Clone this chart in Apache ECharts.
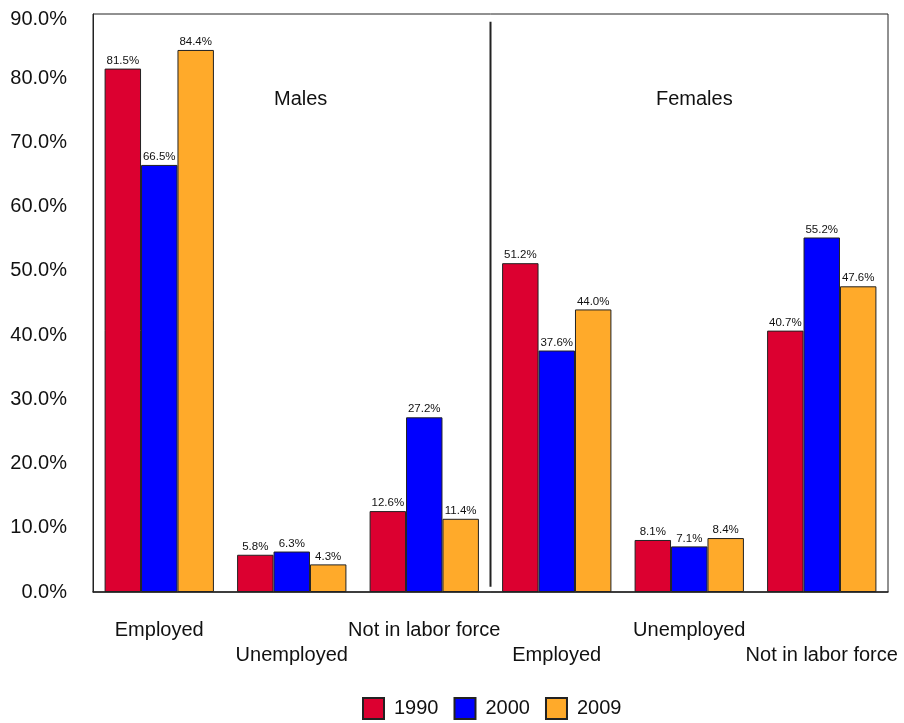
<!DOCTYPE html>
<html>
<head>
<meta charset="utf-8">
<script src="https://cdn.jsdelivr.net/npm/echarts@6/dist/echarts.min.js"></script>
<style>
  html, body { margin: 0; padding: 0; background: #fff; }
  #chart { width: 904px; height: 723px; }
</style>
</head>
<body>
<div id="chart"></div>
<script>
// Labor force status by sex, percentage of population
const categories = ['Employed', 'Unemployed', 'Not in labor force', 'Employed', 'Unemployed', 'Not in labor force'];
const years = ['1990', '2000', '2009'];
const values1990 = [81.5, 5.8, 12.6, 51.2, 8.1, 40.7];
const values2000 = [66.5, 6.3, 27.2, 37.6, 7.1, 55.2];
const values2009 = [84.4, 4.3, 11.4, 44.0, 8.4, 47.6];
const yTicks = [0, 10, 20, 30, 40, 50, 60, 70, 80, 90];
// Separator between the male and female panels (on a 0..6 category-span scale)
const dividerLine = [[3, 0.8], [3, 88.8]];
const panelTitles = ['Males', 'Females'];

const colors = ['#dc0030', '#0000ff', '#ffaa2a'];
const font = 'Liberation Sans, Arial, sans-serif';

const chart = echarts.init(document.getElementById('chart'));

function barSeries(name, data, color) {
  return {
    name: name,
    type: 'bar',
    data: data,
    barWidth: '27.5%',
    barGap: '0%',
    itemStyle: { color: color, borderColor: '#222', borderWidth: 1 },
    label: {
      show: true,
      position: 'top',
      distance: 2,
      fontFamily: font,
      fontSize: 11.5,
      color: '#111',
      formatter: p => p.value.toFixed(1) + '%'
    }
  };
}

const yMax = yTicks[yTicks.length - 1];

chart.setOption({
  animation: false,
  backgroundColor: '#fff',
  textStyle: { fontFamily: font },
  grid: {
    left: 93, right: 16, top: 14, bottom: 131,
    show: true, borderColor: '#222', borderWidth: 1
  },
  legend: {
    data: years,
    top: 692,
    left: 357,
    itemWidth: 21,
    itemHeight: 21,
    itemGap: 15,
    icon: 'rect',
    textStyle: { fontFamily: font, fontSize: 20, color: '#111', padding: [0, 0, 0, 5] }
  },
  xAxis: [
    {
      type: 'category',
      data: categories,
      axisTick: { show: false },
      axisLine: { show: true, lineStyle: { color: '#222', width: 1.5 } },
      axisLabel: {
        interval: 0,
        margin: 26,
        fontFamily: font,
        fontSize: 20,
        lineHeight: 25,
        color: '#111',
        formatter: (v, i) => (i % 2 === 1 ? '\n' + v : v)
      }
    },
    {
      type: 'value',
      min: 0,
      max: 6,
      show: false
    }
  ],
  yAxis: {
    type: 'value',
    min: yTicks[0],
    max: yMax,
    interval: 10,
    splitLine: { show: false },
    axisTick: { show: false },
    axisLine: { show: true, lineStyle: { color: '#222' } },
    axisLabel: {
      margin: 26,
      fontFamily: font,
      fontSize: 20,
      color: '#111',
      formatter: v => (v === yMax ? '{top|' + v.toFixed(1) + '%}' : v.toFixed(1) + '%'),
      rich: {
        top: { fontFamily: font, fontSize: 20, color: '#111', padding: [10, 0, 0, 0] }
      }
    }
  },
  graphic: [
    { type: 'text', left: 274, top: 89, style: { text: panelTitles[0], font: '20px ' + font, fill: '#111' } },
    { type: 'text', left: 656, top: 89, style: { text: panelTitles[1], font: '20px ' + font, fill: '#111' } }
  ],
  series: [
    barSeries(years[0], values1990, colors[0]),
    barSeries(years[1], values2000, colors[1]),
    barSeries(years[2], values2009, colors[2]),
    {
      type: 'line',
      xAxisIndex: 1,
      data: dividerLine,
      symbol: 'none',
      silent: true,
      lineStyle: { color: '#222', width: 2 }
    }
  ]
});
</script>
</body>
</html>
